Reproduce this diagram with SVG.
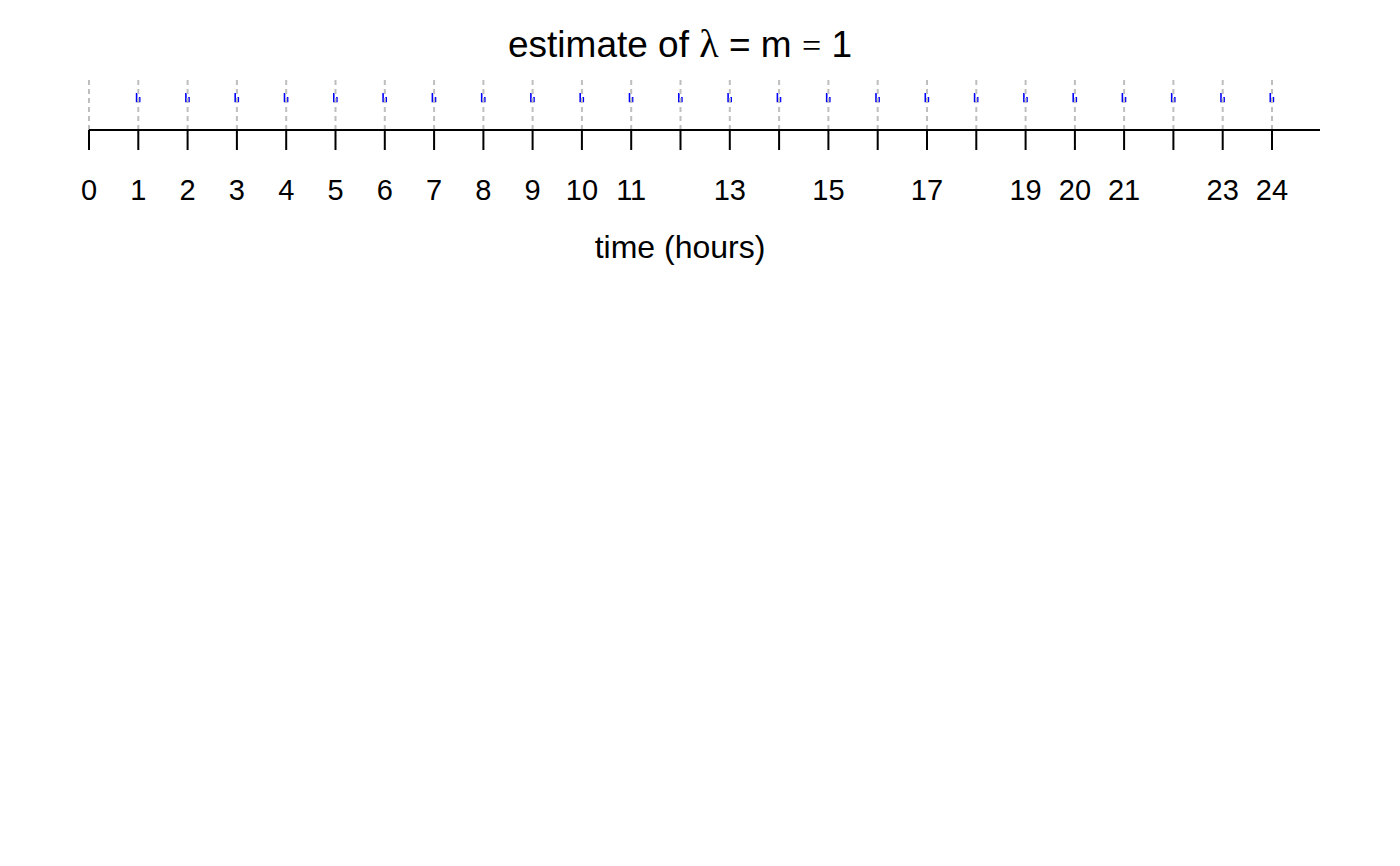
<svg xmlns="http://www.w3.org/2000/svg" width="1400" height="866" viewBox="0 0 1400 866">
<style>
.lbl{font-family:"Liberation Sans",Arial,sans-serif;font-size:29px;fill:#000;text-anchor:middle}
.grid{stroke:#BEBEBE;stroke-width:2;stroke-dasharray:5 4;fill:none}
.tick{stroke:#000;stroke-width:2}
.est{stroke:#0000FF;stroke-width:1.6;fill:none}
</style>
<defs>
<path id="m" d="M-1.7,-37 V-28.6 H1.4 V-33" class="est"/>
</defs>
<rect width="1400" height="866" fill="#fff"/>
<text x="680" y="57" font-family="Liberation Sans,Arial,sans-serif" font-size="37" text-anchor="middle">estimate of <tspan font-family="Liberation Serif,serif" font-size="40">λ</tspan> = m <tspan font-family="Liberation Serif,serif" font-size="34">=</tspan> 1</text>
<g id="estimates">
<use href="#m" x="138.3" y="130"/><use href="#m" x="187.6" y="130"/><use href="#m" x="236.9" y="130"/><use href="#m" x="286.2" y="130"/><use href="#m" x="335.5" y="130"/><use href="#m" x="384.8" y="130"/><use href="#m" x="434.1" y="130"/><use href="#m" x="483.4" y="130"/><use href="#m" x="532.6" y="130"/><use href="#m" x="581.9" y="130"/><use href="#m" x="631.2" y="130"/><use href="#m" x="680.5" y="130"/><use href="#m" x="729.8" y="130"/><use href="#m" x="779.1" y="130"/><use href="#m" x="828.4" y="130"/><use href="#m" x="877.7" y="130"/><use href="#m" x="927" y="130"/><use href="#m" x="976.3" y="130"/><use href="#m" x="1025.6" y="130"/><use href="#m" x="1074.9" y="130"/><use href="#m" x="1124.1" y="130"/><use href="#m" x="1173.4" y="130"/><use href="#m" x="1222.7" y="130"/><use href="#m" x="1272" y="130"/>
</g>
<g id="gridlines">
<path class="grid" d="M89,80V130M138.3,80V130M187.6,80V130M236.9,80V130M286.2,80V130M335.5,80V130M384.8,80V130M434.1,80V130M483.4,80V130M532.6,80V130M581.9,80V130M631.2,80V130M680.5,80V130M729.8,80V130M779.1,80V130M828.4,80V130M877.7,80V130M927,80V130M976.3,80V130M1025.6,80V130M1074.9,80V130M1124.1,80V130M1173.4,80V130M1222.7,80V130M1272,80V130"/>
</g>
<g id="axis">
<line x1="89" y1="130" x2="1320" y2="130" class="tick"/>
<path class="tick" d="M89,130V150M138.3,130V150M187.6,130V150M236.9,130V150M286.2,130V150M335.5,130V150M384.8,130V150M434.1,130V150M483.4,130V150M532.6,130V150M581.9,130V150M631.2,130V150M680.5,130V150M729.8,130V150M779.1,130V150M828.4,130V150M877.7,130V150M927,130V150M976.3,130V150M1025.6,130V150M1074.9,130V150M1124.1,130V150M1173.4,130V150M1222.7,130V150M1272,130V150"/>
<text class="lbl" x="89" y="200">0</text>
<text class="lbl" x="138.3" y="200">1</text>
<text class="lbl" x="187.6" y="200">2</text>
<text class="lbl" x="236.9" y="200">3</text>
<text class="lbl" x="286.2" y="200">4</text>
<text class="lbl" x="335.5" y="200">5</text>
<text class="lbl" x="384.8" y="200">6</text>
<text class="lbl" x="434.1" y="200">7</text>
<text class="lbl" x="483.4" y="200">8</text>
<text class="lbl" x="532.6" y="200">9</text>
<text class="lbl" x="581.9" y="200">10</text>
<text class="lbl" x="631.2" y="200">11</text>
<text class="lbl" x="729.8" y="200">13</text>
<text class="lbl" x="828.4" y="200">15</text>
<text class="lbl" x="927" y="200">17</text>
<text class="lbl" x="1025.6" y="200">19</text>
<text class="lbl" x="1074.9" y="200">20</text>
<text class="lbl" x="1124.1" y="200">21</text>
<text class="lbl" x="1222.7" y="200">23</text>
<text class="lbl" x="1272" y="200">24</text>
<text class="lbl" x="680" y="258" font-size="32" style="font-size:32px">time (hours)</text>
</g>
</svg>
